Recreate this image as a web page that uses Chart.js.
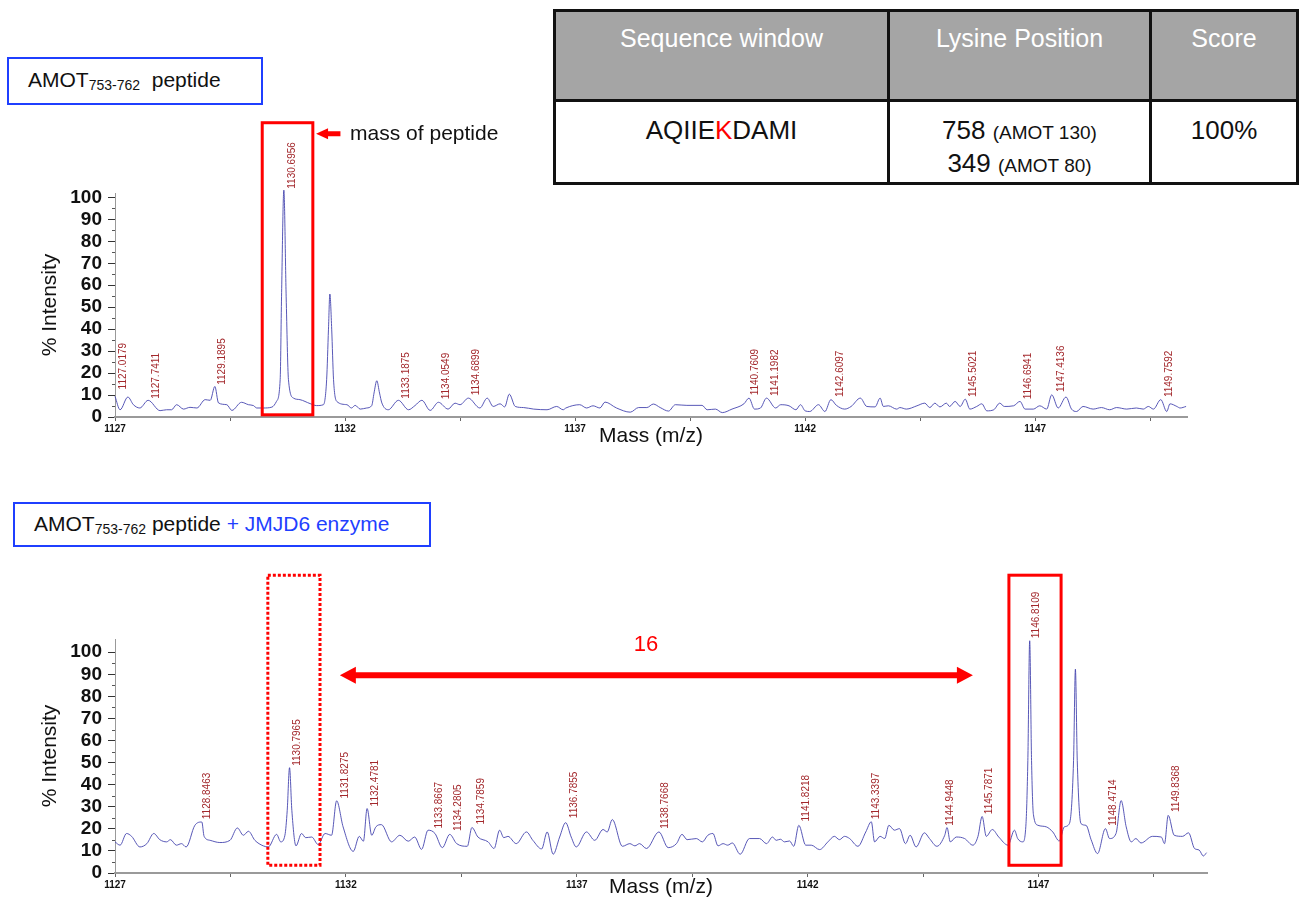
<!DOCTYPE html>
<html>
<head>
<meta charset="utf-8">
<script src="https://cdn.jsdelivr.net/npm/chart.js@4.4.1/dist/chart.umd.min.js"></script>
<style>
  body { margin: 0; background: #fff; font-family: 'Liberation Sans', Arial, sans-serif; }
  #page { position: relative; width: 1300px; height: 900px; overflow: hidden; }
  .cv { position: absolute; left: 0; }
  .tag { position: absolute; box-sizing: border-box; border: 2.5px solid #1f3fff; font-size: 21px; color: #111; white-space: nowrap; }
  .tag sub { font-size: 14px; vertical-align: -3px; }
  .blue { color: #1f3fff; }
  .tb { position: absolute; }
  .line { position: absolute; background: #111; }
  .cell { position: absolute; text-align: center; color: #111; font-size: 26px; line-height: 30px; }
  .hd { color: #fff; font-size: 25px; }
  .sm { font-size: 19px; }
</style>
</head>
<body>
<div id="page">
  <!-- sample labels -->
  <div class="tag" style="left:7px; top:57px; width:256px; height:48px; padding:9px 0 0 19px;">AMOT<sub>753-762</sub>&nbsp; peptide</div>
  <div class="tag" style="left:13px; top:502px; width:418px; height:45px; padding:8px 0 0 19px;">AMOT<sub>753-762</sub> peptide <span class="blue">+ JMJD6 enzyme</span></div>

  <!-- table -->
  <div class="tb" style="left:556px; top:12px; width:740px; height:88px; background:#a5a5a5;"></div>
  <div class="line" style="left:553px; top:9px; width:746px; height:3px;"></div>
  <div class="line" style="left:553px; top:99px; width:746px; height:3px;"></div>
  <div class="line" style="left:553px; top:182px; width:746px; height:3px;"></div>
  <div class="line" style="left:553px; top:9px; width:3px; height:176px;"></div>
  <div class="line" style="left:887px; top:9px; width:3px; height:176px;"></div>
  <div class="line" style="left:1149px; top:9px; width:3px; height:176px;"></div>
  <div class="line" style="left:1296px; top:9px; width:3px; height:176px;"></div>
  <div class="cell hd" style="left:556px; width:331px; top:23px;">Sequence window</div>
  <div class="cell hd" style="left:890px; width:259px; top:23px;">Lysine Position</div>
  <div class="cell hd" style="left:1152px; width:144px; top:23px;">Score</div>
  <div class="cell" style="left:556px; width:331px; top:115px;">AQIIE<span style="color:#ff0000">K</span>DAMI</div>
  <div class="cell" style="left:890px; width:259px; top:115px;">758 <span class="sm">(AMOT 130)</span><br>349 <span class="sm">(AMOT 80)</span></div>
  <div class="cell" style="left:1152px; width:144px; top:115px;">100%</div>

  <canvas id="top" class="cv" width="1220" height="340" style="top:110px;"></canvas>
  <canvas id="bottom" class="cv" width="1240" height="340" style="top:560px;"></canvas>
</div>
<script>
// ---- data ----
const mzTop = [1127.00,1127.11,1127.28,1127.40,1127.54,1127.72,1127.98,1128.12,1128.23,1128.34,
  1128.49,1128.63,1128.78,1128.96,1129.07,1129.17,1129.25,1129.43,1129.54,1129.75,
  1129.90,1130.01,1130.08,1130.22,1130.41,1130.51,1130.59,1130.62,1130.67,1130.72,
  1130.77,1130.88,1131.02,1131.24,1131.38,1131.53,1131.60,1131.64,1131.67,1131.71,
  1131.75,1131.82,1132.04,1132.14,1132.22,1132.33,1132.47,1132.58,1132.63,1132.69,
  1132.75,1132.80,1132.94,1133.16,1133.38,1133.52,1133.67,1133.85,1134.03,
  1134.24,1134.39,1134.50,1134.68,1134.93,1135.09,1135.22,1135.37,1135.47,1135.57,
  1135.70,1135.88,1136.10,1136.39,1136.60,1136.74,1136.80,1137.10,1137.25,1137.39,
  1137.54,1137.65,1137.90,1138.20,1138.38,1138.56,1138.70,1138.85,1139.03,1139.18,
  1139.43,1139.76,1139.87,1140.05,1140.20,1140.41,1140.67,1140.78,1140.90,1141.03,
  1141.16,1141.36,1141.47,1141.65,1141.80,1141.90,1142.00,
  1142.10,1142.29,1142.43,1142.56,1142.68,1142.86,1143.00,1143.20,1143.34,1143.52,
  1143.63,1143.70,1143.81,1143.99,1144.06,1144.20,1144.43,1144.60,1144.71,1144.82,
  1144.93,1145.07,1145.14,1145.26,1145.37,1145.48,1145.58,1145.73,1145.84,1145.95,
  1146.10,1146.23,1146.33,1146.53,1146.67,1146.78,1146.96,1147.10,1147.25,1147.36,
  1147.50,1147.67,1147.79,1147.90,1148.04,1148.26,1148.44,1148.62,1148.77,1148.99,
  1149.20,1149.35,1149.46,1149.57,1149.73,1149.86,1149.93,1150.08,1150.15,1150.28];
const intTop = [9.4,3.3,9.1,5.6,4.1,7.6,2.9,3.3,3.3,5.6,
  3.6,4.4,4.1,7.9,7.6,13.9,6.4,5.6,3.0,6.7,
  5.6,5.2,4.1,4.1,4.5,7.1,17,55,103.3,55,
  17,8.6,7.9,6.1,5.2,5.6,17,40,56,40,
  17,7.1,5.6,4.1,5.3,3.6,4.1,5.2,10.9,16.5,
  10.9,6.4,3.3,7.6,3.3,5.2,7.6,3.0,6.7,
  3.6,6.3,5.6,8.6,4.1,8.6,4.8,6.0,4.6,10.4,
  4.8,4.3,3.6,3.3,4.8,3.3,4.1,5.6,4.1,5.1,
  4.1,6.8,4.1,2.2,4.3,4.3,5.9,4.3,2.7,5.6,
  5.3,5.3,3.3,3.6,2.0,3.6,6.0,8.6,3.6,4.1,
  8.6,4.1,5.6,5.1,3.3,5.6,2.8,
  2.5,5.6,2.5,7.9,5.3,3.6,4.8,8.6,4.8,4.6,
  8.6,4.8,5.1,3.6,4.3,3.6,5.1,6.3,4.3,6.3,
  4.6,6.3,4.8,7.1,4.8,8.1,3.6,4.8,6.0,2.8,
  3.3,6.3,4.8,5.1,7.1,3.6,3.6,5.1,3.6,10.1,
  4.1,9.1,3.6,2.5,4.8,3.6,4.3,3.3,4.3,3.6,
  4.1,3.6,4.8,3.6,7.9,2.5,6.0,4.8,4.1,4.8];

const mzBottom = [1127.00,1127.11,1127.25,1127.36,1127.54,1127.69,1127.84,1127.97,1128.12,1128.20,
  1128.33,1128.44,1128.54,1128.73,1128.88,1128.93,1129.06,1129.27,1129.49,1129.65,
  1129.78,1129.89,1130.03,1130.21,1130.32,1130.50,1130.59,1130.68,1130.73,1130.78,
  1130.83,1130.92,1131.04,1131.13,1131.26,1131.40,1131.55,1131.69,1131.80,1131.94,
  1132.16,1132.29,1132.38,1132.46,1132.56,1132.65,1132.77,1132.99,1133.17,1133.35,
  1133.49,1133.64,1133.78,1133.93,1134.09,1134.25,
  1134.40,1134.63,1134.73,1134.86,1135.08,1135.21,1135.33,1135.42,1135.51,1135.69,
  1135.91,1136.05,1136.24,1136.36,1136.49,1136.63,1136.76,1136.88,1136.99,1137.21,
  1137.39,1137.57,1137.66,1137.77,1137.99,1138.15,1138.26,1138.36,1138.51,1138.78,
  1138.98,1139.16,1139.28,1139.39,1139.59,1139.72,1139.84,1139.95,1140.06,1140.17,
  1140.27,1140.37,1140.54,1140.74,1140.96,1141.11,1141.24,1141.32,1141.41,1141.50,
  1141.61,1141.70,1141.81,1141.96,1142.08,1142.26,1142.44,1142.58,1142.69,1142.80,
  1142.91,
  1143.09,1143.26,1143.38,1143.45,1143.57,1143.67,1143.76,1143.88,1143.99,1144.12,
  1144.22,1144.35,1144.53,1144.64,1144.80,1144.97,1145.02,1145.09,1145.22,1145.40,
  1145.58,1145.69,1145.78,1145.87,1146.00,1146.14,1146.34,1146.48,1146.55,1146.66,
  1146.73,1146.77,1146.81,1146.85,1146.89,1146.99,1147.17,1147.31,1147.45,1147.56,
  1147.67,1147.76,1147.80,1147.84,1147.92,1148.03,1148.14,1148.28,1148.45,1148.54,
  1148.68,1148.79,1148.90,1149.01,1149.11,1149.22,1149.47,1149.66,1149.73,1149.81,
  1149.94,1150.12,1150.25,1150.38,1150.48,1150.57,1150.64];
const intBottom = [14.1,12.6,17.9,16.6,11.8,13.3,17.9,15.1,14.1,15.1,
  12.6,13.3,11.8,21.6,23.1,16.6,14.8,13.8,14.8,20.4,
  17.1,18.9,14.8,12.3,11.8,17.5,14.1,17.1,28.4,47.7,
  28.4,12.3,17.9,16.0,16.3,12.9,17.9,17.1,32.7,20.9,
  9.8,16.6,14.4,29.2,17.1,20.9,21.9,14.1,17.1,14.4,
  16.3,10.7,19.4,17.9,11.5,17.5,
  13.3,12.1,20.6,16.3,14.1,11.1,19.4,16.0,16.6,13.3,
  18.6,14.8,10.9,18.6,8.5,16.3,22.8,16.3,11.8,18.6,
  14.8,19.7,18.6,24.2,12.1,13.3,12.3,13.3,11.1,18.6,
  11.5,13.3,17.5,15.1,15.6,14.1,17.1,17.9,12.3,13.3,
  12.6,13.6,8.5,15.6,15.6,13.3,16.3,14.8,15.3,14.1,
  14.5,12.1,21.6,12.6,12.6,10.6,14.1,16.6,15.1,16.6,
  15.6,
  12.1,18.6,23.2,14.1,16.6,15.6,21.6,19.4,20.1,13.3,
  17.1,11.8,18.2,15.6,12.1,17.1,20.6,14.1,16.3,15.6,
  12.6,16.6,25.6,16.6,19.7,16.3,12.6,19.4,15.6,14.1,
  22.4,51,105.2,51,26.6,21.6,20.9,18.6,14.5,20.9,
  22.4,51,92.3,51,22.4,21.6,15.1,8.8,20.1,15.6,
  17.9,32.8,20.9,14.1,15.6,13.6,16.6,16.3,13.3,26.1,
  17.1,16.6,18.2,11.1,10.4,7.7,9.2];

// peak annotations: label text and the intensity at the label foot
const peakTopText = ['1127.0179','1127.7411','1129.1895','1130.6956','1133.1875','1134.0549','1134.6899',
  '1140.7609','1141.1982','1142.6097','1145.5021','1146.6941','1147.4136','1149.7592'];
const peakTopY = [12.1,7.9,14.2,103.5,7.9,7.6,9.4,9.4,9.1,8.6,8.6,7.6,10.9,8.6];
const peakBottomText = ['1128.8463','1130.7965','1131.8275','1132.4781','1133.8667','1134.2805','1134.7859',
  '1136.7855','1138.7668','1141.8218','1143.3397','1144.9448','1145.7871','1146.8109','1148.4714','1149.8368'];
const peakBottomY = [23.9,48.1,33.3,29.7,19.7,18.6,21.5,24.4,19.6,22.9,23.9,20.9,26.2,105.9,20.9,27.2];

const xMajorTicks = [1127, 1132, 1137, 1142, 1147];
const xMinorTicks = [1129.5, 1134.5, 1139.5, 1144.5, 1149.5];
const yTicks = [0, 10, 20, 30, 40, 50, 60, 70, 80, 90, 100];
const yMinorTicks = [5, 15, 25, 35, 45, 55, 65, 75, 85, 95];

Chart.defaults.font.family = "'Liberation Sans', Arial, sans-serif";
Chart.defaults.color = '#111';

const RED = '#ff0000';

// red boxes, arrows and text drawn in data units
const annotations = {
  id: 'annotations',
  afterDatasetsDraw(chart, args, opts) {
    const { ctx, scales: { x, y } } = chart;
    ctx.save();
    (opts.boxes || []).forEach(b => {
      const x0 = x.getPixelForValue(b.x0), x1 = x.getPixelForValue(b.x1);
      const y0 = y.getPixelForValue(b.y0), y1 = y.getPixelForValue(b.y1);
      ctx.strokeStyle = RED;
      ctx.lineWidth = 3;
      ctx.setLineDash(b.dotted ? [3, 2] : []);
      ctx.strokeRect(x0, y1, x1 - x0, y0 - y1);
    });
    ctx.setLineDash([]);
    (opts.arrows || []).forEach(a => {
      const xa = x.getPixelForValue(a.x0), xb = x.getPixelForValue(a.x1);
      const yy = y.getPixelForValue(a.y);
      const t = a.thick / 2, hl = a.head, hh = a.headH / 2;
      ctx.fillStyle = RED;
      ctx.beginPath();
      if (a.left) {
        ctx.moveTo(xa, yy); ctx.lineTo(xa + hl, yy - hh); ctx.lineTo(xa + hl, yy - t);
      } else {
        ctx.moveTo(xa, yy - t);
      }
      if (a.right) {
        ctx.lineTo(xb - hl, yy - t); ctx.lineTo(xb - hl, yy - hh); ctx.lineTo(xb, yy);
        ctx.lineTo(xb - hl, yy + hh); ctx.lineTo(xb - hl, yy + t);
      } else {
        ctx.lineTo(xb, yy - t); ctx.lineTo(xb, yy + t);
      }
      if (a.left) {
        ctx.lineTo(xa + hl, yy + t); ctx.lineTo(xa + hl, yy + hh);
      } else {
        ctx.lineTo(xa, yy + t);
      }
      ctx.closePath();
      ctx.fill();
    });
    (opts.texts || []).forEach(tx => {
      ctx.fillStyle = tx.color;
      ctx.font = tx.size + "px 'Liberation Sans', Arial, sans-serif";
      ctx.textAlign = tx.align;
      ctx.textBaseline = 'middle';
      ctx.fillText(tx.text, x.getPixelForValue(tx.x), y.getPixelForValue(tx.y));
    });
    ctx.restore();
  }
};

// vertical peak labels and small y minor ticks
const peakLabels = {
  id: 'peakLabels',
  afterDatasetsDraw(chart, args, opts) {
    const { ctx, scales: { x, y } } = chart;
    ctx.save();
    ctx.fillStyle = '#a3282c';
    ctx.font = "10px 'Liberation Sans', Arial, sans-serif";
    ctx.textAlign = 'left';
    ctx.textBaseline = 'middle';
    opts.text.forEach((t, i) => {
      const px = x.getPixelForValue(parseFloat(t)) + 7;
      const py = y.getPixelForValue(opts.y[i]) - 1;
      ctx.save();
      ctx.translate(px, py);
      ctx.rotate(-Math.PI / 2);
      ctx.fillText(t, 0, 0);
      ctx.restore();
    });
    ctx.fillStyle = '#555';
    yMinorTicks.forEach(v => {
      ctx.fillRect(y.right - 3, Math.round(y.getPixelForValue(v)), 3, 1);
    });
    ctx.restore();
  }
};

function makeChart(id, mz, inten, xMax, yMax, padTop, padRight, xAxisH, xTitlePad, labels, annot) {
  const pts = mz.map((m, i) => ({ x: m, y: inten[i] }));
  return new Chart(document.getElementById(id), {
    type: 'line',
    data: { datasets: [{
      data: pts,
      borderColor: 'rgba(70, 70, 175, 0.9)',
      borderWidth: 1,
      pointRadius: 0,
      cubicInterpolationMode: 'monotone',
      clip: false
    }] },
    options: {
      responsive: false,
      animation: false,
      events: [],
      layout: { padding: { top: padTop, right: padRight, left: 0, bottom: 0 } },
      plugins: {
        legend: { display: false },
        tooltip: { enabled: false },
        peakLabels: labels,
        annotations: annot
      },
      scales: {
        x: {
          type: 'linear',
          min: 1127,
          max: xMax,
          afterBuildTicks: s => { s.ticks = xMajorTicks.concat(xMinorTicks).sort((a, b) => a - b).map(v => ({ value: v })); },
          afterFit: s => { s.height = xAxisH; },
          ticks: {
            autoSkip: false, maxRotation: 0, padding: 2,
            font: { size: 10, weight: 'bold' }, color: '#111',
            callback: v => xMajorTicks.includes(v) ? String(v) : ''
          },
          grid: { drawOnChartArea: false, tickLength: 4, tickColor: '#666' },
          border: { color: '#9a9a9a', width: 2 },
          title: { display: true, text: 'Mass (m/z)', font: { size: 21 }, color: '#111', padding: { top: 0, bottom: xTitlePad } }
        },
        y: {
          min: 0,
          max: yMax,
          afterBuildTicks: s => { s.ticks = yTicks.map(v => ({ value: v })); },
          afterFit: s => { s.width = 115; },
          ticks: { autoSkip: false, padding: 6, font: { size: 19, weight: 'bold' }, color: '#111' },
          grid: { drawOnChartArea: false, tickLength: 7, tickColor: '#333' },
          border: { color: '#999', width: 1, dash: [2, 2] },
          title: { display: true, text: '% Intensity', font: { size: 21 }, color: '#111', padding: { top: 38, bottom: 0 } }
        }
      }
    },
    plugins: [peakLabels, annotations]
  });
}

makeChart('top', mzTop, intTop, 1150.3, 102, 83, 33, 33, 1,
  { text: peakTopText, y: peakTopY },
  {
    boxes: [{ x0: 1130.2, x1: 1131.3, y0: 1.0, y1: 134 }],
    arrows: [{ x0: 1131.37, x1: 1131.9, y: 129, left: true, right: false, thick: 5, head: 12, headH: 11 }],
    texts: [{ text: 'mass of peptide', x: 1132.11, y: 129, size: 21, color: '#111', align: 'left' }]
  });

makeChart('bottom', mzBottom, intBottom, 1150.65, 106, 79, 33, 27, 0,
  { text: peakBottomText, y: peakBottomY },
  {
    boxes: [
      { x0: 1130.31, x1: 1131.44, y0: 3.5, y1: 134.9, dotted: true },
      { x0: 1146.36, x1: 1147.49, y0: 3.5, y1: 134.9 }
    ],
    arrows: [{ x0: 1131.87, x1: 1145.58, y: 89.6, left: true, right: true, thick: 6, head: 16, headH: 17 }],
    texts: [{ text: '16', x: 1138.5, y: 103.5, size: 22, color: RED, align: 'center' }]
  });
</script>
</body>
</html>
